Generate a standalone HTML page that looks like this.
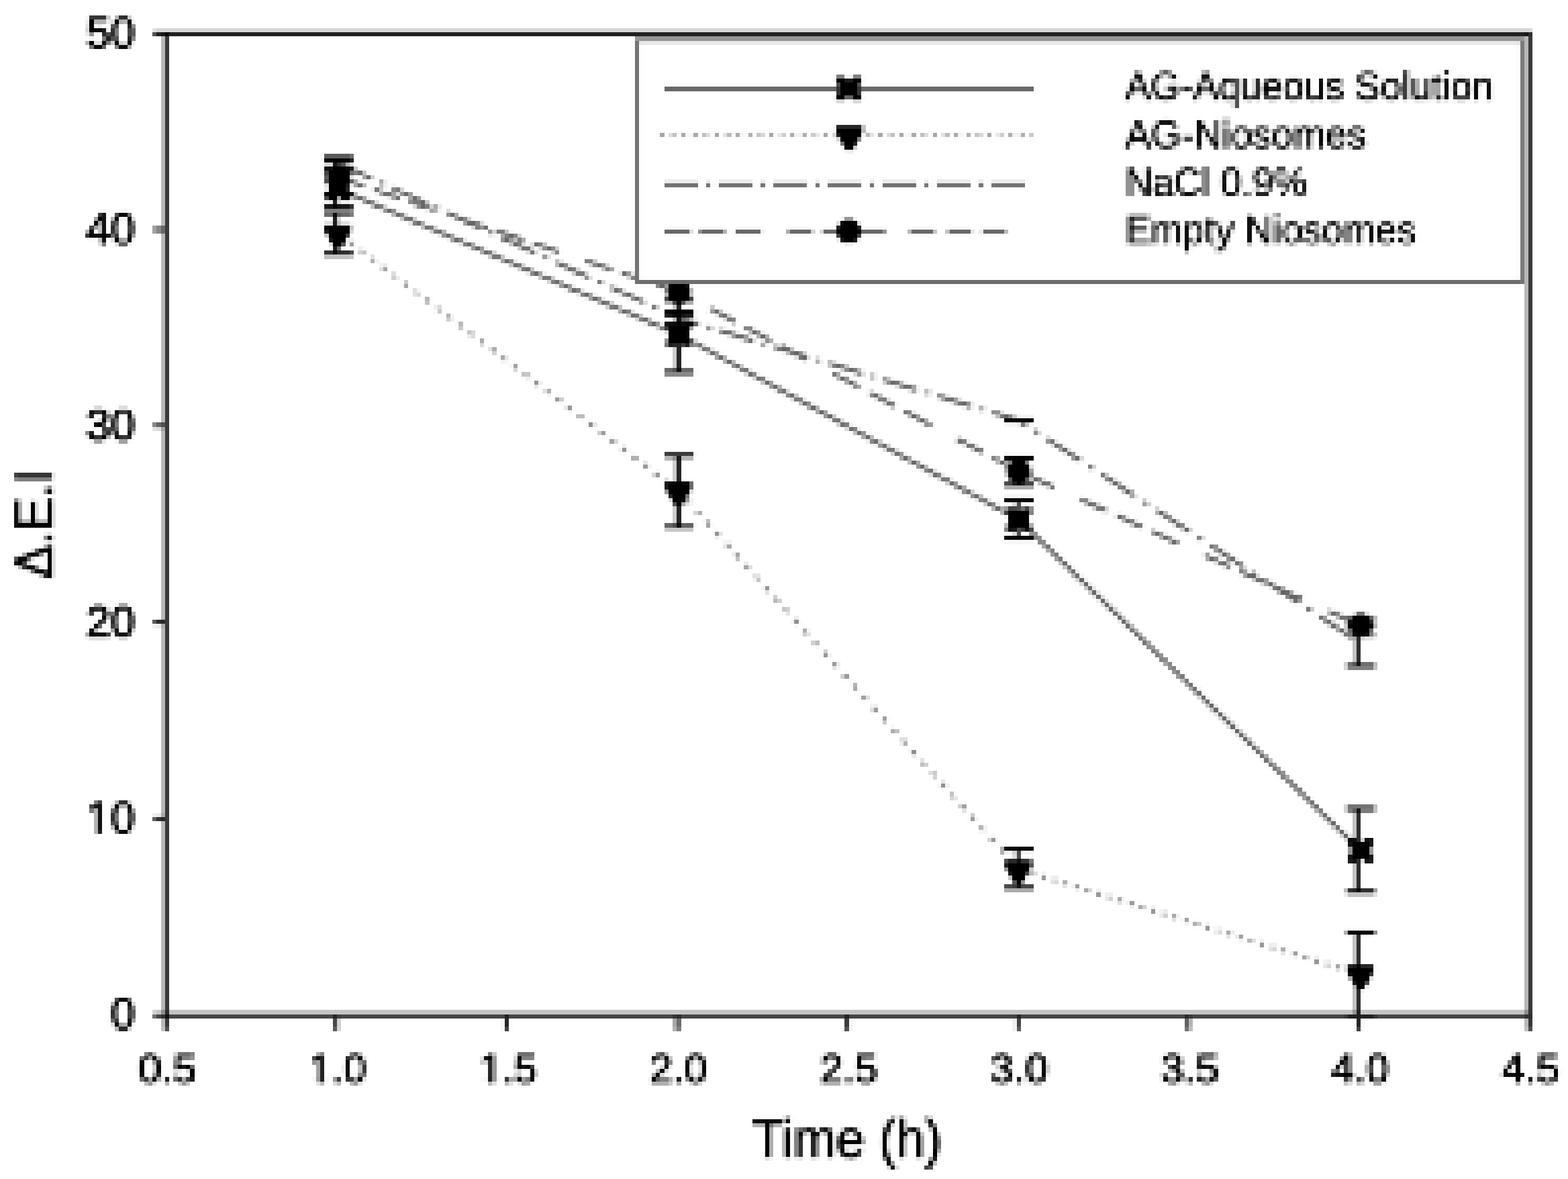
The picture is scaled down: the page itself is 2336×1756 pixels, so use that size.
<!DOCTYPE html>
<html lang="en"><head><meta charset="utf-8"><title>Chart</title>
<style>
html,body{margin:0;padding:0;background:#fff;overflow:hidden}
svg{display:block}
text{font-family:"Liberation Sans","DejaVu Sans",sans-serif;fill:#000;stroke:#000;stroke-width:1.6px;stroke-linejoin:round}
</style></head><body>
<svg width="2336" height="1756" viewBox="0 0 2336 1756">
<defs>
<filter id="pix" filterUnits="userSpaceOnUse" primitiveUnits="userSpaceOnUse" x="0" y="0" width="2336" height="1756" color-interpolation-filters="sRGB">
<feFlood flood-color="rgb(176,0,0)" x="2" y="4" width="1" height="25" result="c0"/>
<feFlood flood-color="rgb(160,0,0)" x="3" y="4" width="1" height="25" result="c1"/>
<feFlood flood-color="rgb(144,0,0)" x="4" y="4" width="1" height="25" result="c2"/>
<feFlood flood-color="rgb(128,0,0)" x="5" y="4" width="1" height="25" result="c3"/>
<feFlood flood-color="rgb(112,0,0)" x="6" y="4" width="1" height="25" result="c4"/>
<feFlood flood-color="rgb(96,0,0)" x="7" y="4" width="1" height="25" result="c5"/>
<feFlood flood-color="rgb(176,0,0)" x="8" y="4" width="1" height="25" result="c6"/>
<feFlood flood-color="rgb(160,0,0)" x="9" y="4" width="1" height="25" result="c7"/>
<feFlood flood-color="rgb(144,0,0)" x="10" y="4" width="1" height="25" result="c8"/>
<feFlood flood-color="rgb(128,0,0)" x="11" y="4" width="1" height="25" result="c9"/>
<feFlood flood-color="rgb(112,0,0)" x="12" y="4" width="1" height="25" result="c10"/>
<feFlood flood-color="rgb(96,0,0)" x="13" y="4" width="1" height="25" result="c11"/>
<feFlood flood-color="rgb(80,0,0)" x="14" y="4" width="1" height="25" result="c12"/>
<feFlood flood-color="rgb(176,0,0)" x="15" y="4" width="1" height="25" result="c13"/>
<feFlood flood-color="rgb(160,0,0)" x="16" y="4" width="1" height="25" result="c14"/>
<feFlood flood-color="rgb(144,0,0)" x="17" y="4" width="1" height="25" result="c15"/>
<feFlood flood-color="rgb(128,0,0)" x="18" y="4" width="1" height="25" result="c16"/>
<feFlood flood-color="rgb(112,0,0)" x="19" y="4" width="1" height="25" result="c17"/>
<feFlood flood-color="rgb(96,0,0)" x="20" y="4" width="1" height="25" result="c18"/>
<feFlood flood-color="rgb(176,0,0)" x="21" y="4" width="1" height="25" result="c19"/>
<feFlood flood-color="rgb(160,0,0)" x="22" y="4" width="1" height="25" result="c20"/>
<feFlood flood-color="rgb(144,0,0)" x="23" y="4" width="1" height="25" result="c21"/>
<feFlood flood-color="rgb(128,0,0)" x="24" y="4" width="1" height="25" result="c22"/>
<feFlood flood-color="rgb(112,0,0)" x="25" y="4" width="1" height="25" result="c23"/>
<feFlood flood-color="rgb(96,0,0)" x="26" y="4" width="1" height="25" result="c24"/>
<feMerge x="2" y="4" width="25" height="25" result="cols"><feMergeNode in="c0"/><feMergeNode in="c1"/><feMergeNode in="c2"/><feMergeNode in="c3"/><feMergeNode in="c4"/><feMergeNode in="c5"/><feMergeNode in="c6"/><feMergeNode in="c7"/><feMergeNode in="c8"/><feMergeNode in="c9"/><feMergeNode in="c10"/><feMergeNode in="c11"/><feMergeNode in="c12"/><feMergeNode in="c13"/><feMergeNode in="c14"/><feMergeNode in="c15"/><feMergeNode in="c16"/><feMergeNode in="c17"/><feMergeNode in="c18"/><feMergeNode in="c19"/><feMergeNode in="c20"/><feMergeNode in="c21"/><feMergeNode in="c22"/><feMergeNode in="c23"/><feMergeNode in="c24"/></feMerge>
<feFlood flood-color="rgb(0,176,0)" x="2" y="4" width="25" height="1" result="r0"/>
<feFlood flood-color="rgb(0,160,0)" x="2" y="5" width="25" height="1" result="r1"/>
<feFlood flood-color="rgb(0,144,0)" x="2" y="6" width="25" height="1" result="r2"/>
<feFlood flood-color="rgb(0,128,0)" x="2" y="7" width="25" height="1" result="r3"/>
<feFlood flood-color="rgb(0,112,0)" x="2" y="8" width="25" height="1" result="r4"/>
<feFlood flood-color="rgb(0,96,0)" x="2" y="9" width="25" height="1" result="r5"/>
<feFlood flood-color="rgb(0,80,0)" x="2" y="10" width="25" height="1" result="r6"/>
<feFlood flood-color="rgb(0,176,0)" x="2" y="11" width="25" height="1" result="r7"/>
<feFlood flood-color="rgb(0,160,0)" x="2" y="12" width="25" height="1" result="r8"/>
<feFlood flood-color="rgb(0,144,0)" x="2" y="13" width="25" height="1" result="r9"/>
<feFlood flood-color="rgb(0,128,0)" x="2" y="14" width="25" height="1" result="r10"/>
<feFlood flood-color="rgb(0,112,0)" x="2" y="15" width="25" height="1" result="r11"/>
<feFlood flood-color="rgb(0,96,0)" x="2" y="16" width="25" height="1" result="r12"/>
<feFlood flood-color="rgb(0,176,0)" x="2" y="17" width="25" height="1" result="r13"/>
<feFlood flood-color="rgb(0,160,0)" x="2" y="18" width="25" height="1" result="r14"/>
<feFlood flood-color="rgb(0,144,0)" x="2" y="19" width="25" height="1" result="r15"/>
<feFlood flood-color="rgb(0,128,0)" x="2" y="20" width="25" height="1" result="r16"/>
<feFlood flood-color="rgb(0,112,0)" x="2" y="21" width="25" height="1" result="r17"/>
<feFlood flood-color="rgb(0,96,0)" x="2" y="22" width="25" height="1" result="r18"/>
<feFlood flood-color="rgb(0,176,0)" x="2" y="23" width="25" height="1" result="r19"/>
<feFlood flood-color="rgb(0,160,0)" x="2" y="24" width="25" height="1" result="r20"/>
<feFlood flood-color="rgb(0,144,0)" x="2" y="25" width="25" height="1" result="r21"/>
<feFlood flood-color="rgb(0,128,0)" x="2" y="26" width="25" height="1" result="r22"/>
<feFlood flood-color="rgb(0,112,0)" x="2" y="27" width="25" height="1" result="r23"/>
<feFlood flood-color="rgb(0,96,0)" x="2" y="28" width="25" height="1" result="r24"/>
<feMerge x="2" y="4" width="25" height="25" result="rows"><feMergeNode in="r0"/><feMergeNode in="r1"/><feMergeNode in="r2"/><feMergeNode in="r3"/><feMergeNode in="r4"/><feMergeNode in="r5"/><feMergeNode in="r6"/><feMergeNode in="r7"/><feMergeNode in="r8"/><feMergeNode in="r9"/><feMergeNode in="r10"/><feMergeNode in="r11"/><feMergeNode in="r12"/><feMergeNode in="r13"/><feMergeNode in="r14"/><feMergeNode in="r15"/><feMergeNode in="r16"/><feMergeNode in="r17"/><feMergeNode in="r18"/><feMergeNode in="r19"/><feMergeNode in="r20"/><feMergeNode in="r21"/><feMergeNode in="r22"/><feMergeNode in="r23"/><feMergeNode in="r24"/></feMerge>
<feBlend in="cols" in2="rows" mode="screen" x="2" y="4" width="25" height="25" result="cell"/>
<feTile in="cell" result="map"/>
<feGaussianBlur in="SourceGraphic" stdDeviation="1.7" result="b"/>
<feDisplacementMap in="b" in2="map" scale="15.9375" xChannelSelector="R" yChannelSelector="G"/>
</filter>
</defs>
<rect x="0" y="0" width="2336" height="1756" fill="#fff"/>
<g filter="url(#pix)">
<rect x="-60" y="-60" width="2456" height="1876" fill="#fff"/>
<g transform="translate(0.375,0.375)">
<g id="lines">
<line x1="503.98" y1="243.25" x2="1011.48" y2="473.87" stroke="#646464" stroke-width="6.25" stroke-dasharray="54.92 13.73 6.87 13.73" stroke-dashoffset="0.00"/>
<line x1="1011.48" y1="473.87" x2="1517.72" y2="626.06" stroke="#646464" stroke-width="6.25" stroke-dasharray="52.21 13.05 6.53 13.05" stroke-dashoffset="20.88"/>
<line x1="1517.72" y1="626.06" x2="2027.10" y2="957.62" stroke="#646464" stroke-width="6.25" stroke-dasharray="59.66 14.91 7.46 14.91" stroke-dashoffset="46.24"/>
<line x1="503.98" y1="264.50" x2="1011.48" y2="435.13" stroke="#646464" stroke-width="6.25" stroke-dasharray="40.88 15.17 40.88 15.17 40.88 41.54" stroke-dashoffset="0.00"/>
<line x1="1011.48" y1="435.13" x2="1517.72" y2="702.00" stroke="#646464" stroke-width="6.25" stroke-dasharray="43.80 16.25 43.80 16.25 43.80 44.51" stroke-dashoffset="156.85"/>
<line x1="1517.72" y1="702.00" x2="2027.10" y2="931.69" stroke="#646464" stroke-width="6.25" stroke-dasharray="42.51 15.77 42.51 15.77 42.51 43.19" stroke-dashoffset="100.78"/>
<line x1="503.98" y1="281.38" x2="1011.48" y2="498.25" stroke="#646464" stroke-width="6.25"/>
<line x1="1011.48" y1="498.25" x2="1517.72" y2="773.88" stroke="#646464" stroke-width="6.25"/>
<line x1="1517.72" y1="773.88" x2="2027.10" y2="1266.69" stroke="#646464" stroke-width="6.25"/>
<line x1="503.98" y1="347.62" x2="1011.48" y2="731.38" stroke="#8c8c8c" stroke-width="6.25" stroke-dasharray="7.84 12.54" stroke-dashoffset="0.00"/>
<line x1="1011.48" y1="731.38" x2="1517.72" y2="1294.50" stroke="#8c8c8c" stroke-width="6.25" stroke-dasharray="8.40 13.45" stroke-dashoffset="5.04"/>
<line x1="1517.72" y1="1294.50" x2="2027.10" y2="1451.38" stroke="#8c8c8c" stroke-width="6.25" stroke-dasharray="6.54 10.46" stroke-dashoffset="15.04"/>
</g>
<g id="err">
<rect x="497.41" y="234.69" width="6.25" height="17.31" fill="#000"/>
<rect x="482.72" y="231.56" width="43.13" height="6.25" fill="#000"/>
<rect x="482.72" y="248.88" width="43.13" height="6.25" fill="#000"/>
<rect x="1006.41" y="468.88" width="6.25" height="14.06" fill="#000"/>
<rect x="990.23" y="465.75" width="43.13" height="6.25" fill="#000"/>
<rect x="990.23" y="479.81" width="43.13" height="6.25" fill="#000"/>
<rect x="1512.66" y="625.75" width="6.25" height="0.62" fill="#000"/>
<rect x="1496.47" y="622.62" width="43.13" height="6.25" fill="#000"/>
<rect x="1496.47" y="623.25" width="43.13" height="6.25" fill="#000"/>
<rect x="2019.22" y="929.50" width="6.25" height="62.50" fill="#000"/>
<rect x="2005.85" y="926.38" width="43.12" height="6.25" fill="#000"/>
<rect x="2005.85" y="988.88" width="43.12" height="6.25" fill="#000"/>
<rect x="497.41" y="240.56" width="6.25" height="47.69" fill="#000"/>
<rect x="482.72" y="237.44" width="43.13" height="6.25" fill="#000"/>
<rect x="482.72" y="285.12" width="43.13" height="6.25" fill="#000"/>
<rect x="1006.41" y="406.38" width="6.25" height="57.50" fill="#000"/>
<rect x="990.23" y="403.25" width="43.13" height="6.25" fill="#000"/>
<rect x="990.23" y="460.75" width="43.13" height="6.25" fill="#000"/>
<rect x="1512.66" y="682.00" width="6.25" height="40.31" fill="#000"/>
<rect x="1496.47" y="678.88" width="43.13" height="6.25" fill="#000"/>
<rect x="1496.47" y="719.19" width="43.13" height="6.25" fill="#000"/>
<rect x="2019.22" y="920.12" width="6.25" height="26.56" fill="#000"/>
<rect x="2005.85" y="917.00" width="43.12" height="6.25" fill="#6a6a6a"/>
<rect x="2005.85" y="943.56" width="43.12" height="6.25" fill="#6a6a6a"/>
<rect x="497.41" y="254.50" width="6.25" height="53.75" fill="#000"/>
<rect x="482.72" y="251.38" width="43.13" height="6.25" fill="#000"/>
<rect x="482.72" y="305.12" width="43.13" height="6.25" fill="#000"/>
<rect x="1006.41" y="447.31" width="6.25" height="106.56" fill="#000"/>
<rect x="990.23" y="444.19" width="43.13" height="6.25" fill="#000"/>
<rect x="990.23" y="550.75" width="43.13" height="6.25" fill="#000"/>
<rect x="1512.66" y="744.81" width="6.25" height="56.56" fill="#000"/>
<rect x="1496.47" y="741.69" width="43.13" height="6.25" fill="#000"/>
<rect x="1496.47" y="798.25" width="43.13" height="6.25" fill="#000"/>
<rect x="2019.22" y="1204.06" width="6.25" height="123.87" fill="#000"/>
<rect x="2005.85" y="1200.94" width="43.12" height="6.25" fill="#000"/>
<rect x="2005.85" y="1324.81" width="43.12" height="6.25" fill="#000"/>
<rect x="497.41" y="317.31" width="6.25" height="60.63" fill="#000"/>
<rect x="482.72" y="314.19" width="43.13" height="6.25" fill="#000"/>
<rect x="482.72" y="374.81" width="43.13" height="6.25" fill="#000"/>
<rect x="1006.41" y="678.12" width="6.25" height="106.69" fill="#000"/>
<rect x="990.23" y="675.00" width="43.13" height="6.25" fill="#000"/>
<rect x="990.23" y="781.69" width="43.13" height="6.25" fill="#000"/>
<rect x="1512.66" y="1264.50" width="6.25" height="57.81" fill="#000"/>
<rect x="1496.47" y="1261.38" width="43.13" height="6.25" fill="#000"/>
<rect x="1496.47" y="1319.19" width="43.13" height="6.25" fill="#000"/>
<rect x="2019.22" y="1388.56" width="6.25" height="124.06" fill="#000"/>
<rect x="2005.85" y="1385.44" width="43.12" height="6.25" fill="#000"/>
<rect x="2005.85" y="1509.50" width="43.12" height="6.25" fill="#000"/>
</g>
<g id="markers">
<circle cx="504.0" cy="264.5" r="18.1" fill="#000"/>
<circle cx="1011.5" cy="435.1" r="18.1" fill="#000"/>
<circle cx="1517.7" cy="702.0" r="18.1" fill="#000"/>
<circle cx="2027.1" cy="931.7" r="18.1" fill="#000"/>
<polygon points="485.2,263.6 497.7,263.6 500.9,268.2 507.1,268.2 510.2,263.6 522.7,263.6 522.7,271.4 519.6,276.4 519.6,286.4 522.7,291.4 522.7,298.9 510.2,298.9 507.1,293.9 500.9,293.9 497.7,298.9 485.2,298.9 485.2,291.4 488.4,286.4 488.4,276.4 485.2,271.4" fill="#000"/>
<polygon points="992.7,480.4 1005.2,480.4 1008.4,485.1 1014.6,485.1 1017.7,480.4 1030.2,480.4 1030.2,488.3 1027.1,493.2 1027.1,503.2 1030.2,508.2 1030.2,515.8 1017.7,515.8 1014.6,510.8 1008.4,510.8 1005.2,515.8 992.7,515.8 992.7,508.2 995.9,503.2 995.9,493.2 992.7,488.3" fill="#000"/>
<polygon points="1499.0,756.1 1511.5,756.1 1514.6,760.8 1520.8,760.8 1524.0,756.1 1536.5,756.1 1536.5,763.9 1533.3,768.9 1533.3,778.9 1536.5,783.9 1536.5,791.4 1524.0,791.4 1520.8,786.4 1514.6,786.4 1511.5,791.4 1499.0,791.4 1499.0,783.9 1502.1,778.9 1502.1,768.9 1499.0,763.9" fill="#000"/>
<polygon points="2008.3,1248.9 2020.8,1248.9 2024.0,1253.6 2030.2,1253.6 2033.3,1248.9 2045.8,1248.9 2045.8,1256.7 2042.7,1261.7 2042.7,1271.7 2045.8,1276.7 2045.8,1284.2 2033.3,1284.2 2030.2,1279.2 2024.0,1279.2 2020.8,1284.2 2008.3,1284.2 2008.3,1276.7 2011.5,1271.7 2011.5,1261.7 2008.3,1256.7" fill="#000"/>
<polygon points="483.7,333.9 523.0,333.9 523.0,344.5 508.4,370.1 498.4,370.1 483.7,344.5" fill="#000"/>
<polygon points="991.2,717.6 1030.5,717.6 1030.5,728.2 1015.9,753.9 1005.9,753.9 991.2,728.2" fill="#000"/>
<polygon points="1497.4,1280.8 1536.8,1280.8 1536.8,1291.4 1522.1,1317.0 1512.1,1317.0 1497.4,1291.4" fill="#000"/>
<polygon points="2006.8,1437.6 2046.2,1437.6 2046.2,1448.2 2031.5,1473.9 2021.5,1473.9 2006.8,1448.2" fill="#000"/>
</g>
<g id="legend">
<rect x="947.10" y="57.62" width="1321.25" height="364.38" fill="#fff"/>
<rect x="945.85" y="56.38" width="1325.00" height="6.25" fill="#626262"/>
<rect x="945.85" y="417.00" width="1325.00" height="6.25" fill="#686868"/>
<rect x="945.85" y="56.38" width="6.25" height="366.88" fill="#707070"/>
<rect x="2263.97" y="56.38" width="6.25" height="366.88" fill="#707070"/>
<line x1="989.60" y1="132.62" x2="1539.60" y2="132.62" stroke="#646464" stroke-width="6.25"/>
<line x1="983.35" y1="201.38" x2="1539.60" y2="201.38" stroke="#a0a0a0" stroke-width="6.25" stroke-dasharray="6.25 10.00"/>
<line x1="989.60" y1="275.12" x2="1533.35" y2="275.12" stroke="#646464" stroke-width="6.25" stroke-dasharray="50.00 12.50 6.25 12.50"/>
<line x1="989.60" y1="345.12" x2="1028.97" y2="345.12" stroke="#646464" stroke-width="6.25"/>
<line x1="1042.10" y1="345.12" x2="1080.22" y2="345.12" stroke="#646464" stroke-width="6.25"/>
<line x1="1095.85" y1="345.12" x2="1133.97" y2="345.12" stroke="#646464" stroke-width="6.25"/>
<line x1="1173.97" y1="345.12" x2="1210.22" y2="345.12" stroke="#646464" stroke-width="6.25"/>
<line x1="1225.22" y1="345.12" x2="1318.97" y2="345.12" stroke="#646464" stroke-width="6.25"/>
<line x1="1355.22" y1="345.12" x2="1392.72" y2="345.12" stroke="#646464" stroke-width="6.25"/>
<line x1="1411.47" y1="345.12" x2="1447.72" y2="345.12" stroke="#646464" stroke-width="6.25"/>
<line x1="1462.72" y1="345.12" x2="1498.97" y2="345.12" stroke="#646464" stroke-width="6.25"/>
<polygon points="1245.8,114.2 1258.3,114.2 1261.5,118.9 1267.7,118.9 1270.8,114.2 1283.3,114.2 1283.3,122.0 1280.2,127.0 1280.2,137.0 1283.3,142.0 1283.3,149.5 1270.8,149.5 1267.7,144.5 1261.5,144.5 1258.3,149.5 1245.8,149.5 1245.8,142.0 1249.0,137.0 1249.0,127.0 1245.8,122.0" fill="#000"/>
<polygon points="1245.8,187.6 1285.2,187.6 1285.2,198.2 1270.5,223.9 1260.5,223.9 1245.8,198.2" fill="#000"/>
<circle cx="1264.6" cy="344.2" r="18.1" fill="#000"/>
<text x="1676" y="148.5" font-size="59.5" text-anchor="start" textLength="549" lengthAdjust="spacingAndGlyphs" style="stroke-width:0.9px">AG-Aqueous Solution</text>
<text x="1676" y="220.5" font-size="59.5" text-anchor="start" textLength="360" lengthAdjust="spacingAndGlyphs" style="stroke-width:0.9px">AG-Niosomes</text>
<text x="1676" y="291.5" font-size="59.5" text-anchor="start" textLength="272" lengthAdjust="spacingAndGlyphs" style="stroke-width:0.9px">NaCl 0.9%</text>
<text x="1676" y="362.5" font-size="59.5" text-anchor="start" textLength="434" lengthAdjust="spacingAndGlyphs" style="stroke-width:0.9px">Empty Niosomes</text>
</g>
<g id="axes">
<rect x="228.97" y="46.56" width="2052.31" height="6.25" fill="#000"/>
<rect x="228.97" y="1508.25" width="2052.31" height="6.81" fill="#000"/>
<rect x="244.04" y="46.56" width="6.25" height="1487.31" fill="#000"/>
<rect x="2275.04" y="46.56" width="6.25" height="1487.31" fill="#000"/>
<rect x="228.97" y="338.94" width="18.19" height="6.37" fill="#222"/>
<rect x="228.97" y="631.31" width="18.19" height="6.38" fill="#222"/>
<rect x="228.97" y="923.69" width="18.19" height="6.38" fill="#222"/>
<rect x="228.97" y="1216.06" width="18.19" height="6.38" fill="#222"/>
<rect x="497.69" y="1512.12" width="6.25" height="21.75" fill="#222"/>
<rect x="751.60" y="1512.12" width="6.25" height="21.75" fill="#222"/>
<rect x="1005.51" y="1512.12" width="6.25" height="21.75" fill="#222"/>
<rect x="1259.41" y="1512.12" width="6.25" height="21.75" fill="#222"/>
<rect x="1513.32" y="1512.12" width="6.25" height="21.75" fill="#222"/>
<rect x="1767.22" y="1512.12" width="6.25" height="21.75" fill="#222"/>
<rect x="2021.13" y="1512.12" width="6.25" height="21.75" fill="#222"/>
</g>
<g id="labels">
<text x="201.5" y="71.2" font-size="66" text-anchor="end">50</text>
<text x="201.5" y="363.6" font-size="66" text-anchor="end">40</text>
<text x="201.5" y="656.0" font-size="66" text-anchor="end">30</text>
<text x="201.5" y="948.4" font-size="66" text-anchor="end">20</text>
<text x="201.5" y="1240.7" font-size="66" text-anchor="end">10</text>
<rect x="130.1" y="1234.3" width="13.7" height="8.0" fill="#fff"/>
<rect x="151.3" y="1234.3" width="13.1" height="8.0" fill="#fff"/>
<text x="201.5" y="1533.1" font-size="66" text-anchor="end">0</text>
<text x="249.0" y="1613.0" font-size="62" text-anchor="middle">0.5</text>
<text x="502.9" y="1613.0" font-size="62" text-anchor="middle">1.0</text>
<rect x="461.7" y="1606.9" width="12.9" height="7.6" fill="#fff"/>
<rect x="481.7" y="1606.9" width="12.3" height="7.6" fill="#fff"/>
<text x="756.9" y="1613.0" font-size="62" text-anchor="middle">1.5</text>
<rect x="715.6" y="1606.9" width="12.9" height="7.6" fill="#fff"/>
<rect x="735.6" y="1606.9" width="12.3" height="7.6" fill="#fff"/>
<text x="1010.8" y="1613.0" font-size="62" text-anchor="middle">2.0</text>
<text x="1264.7" y="1613.0" font-size="62" text-anchor="middle">2.5</text>
<text x="1518.6" y="1613.0" font-size="62" text-anchor="middle">3.0</text>
<text x="1772.5" y="1613.0" font-size="62" text-anchor="middle">3.5</text>
<text x="2026.4" y="1613.0" font-size="62" text-anchor="middle">4.0</text>
<text x="2280.3" y="1613.0" font-size="62" text-anchor="middle">4.5</text>
<text x="1262" y="1724" font-size="79" text-anchor="middle" textLength="283" lengthAdjust="spacingAndGlyphs">Time (h)</text>
<text transform="translate(77.5,780.5) rotate(-90)" font-size="79" text-anchor="middle" textLength="162" lengthAdjust="spacingAndGlyphs">Δ.E.I</text>
</g>
</g>
</g>
</svg>
</body></html>
